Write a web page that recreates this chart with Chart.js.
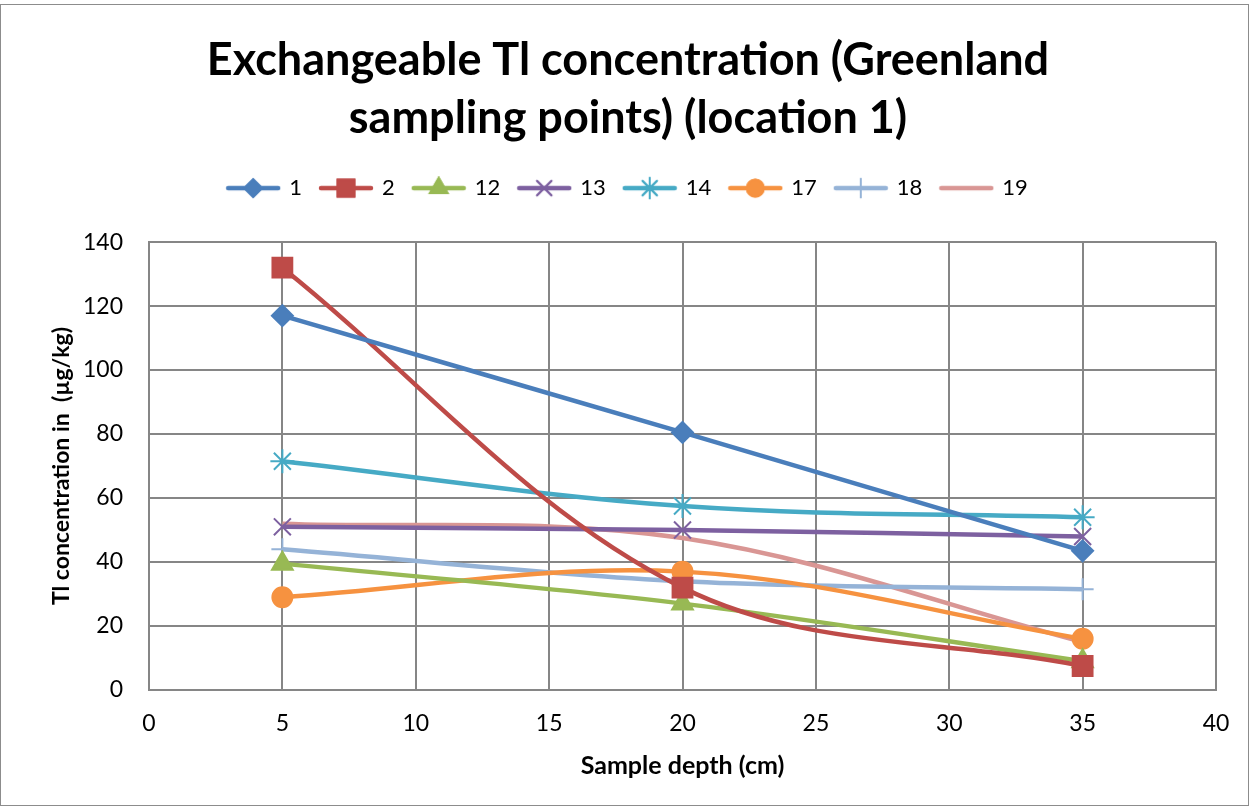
<!DOCTYPE html>
<html>
<head>
<meta charset="utf-8">
<script src="https://cdn.jsdelivr.net/npm/chart.js@4/dist/chart.umd.min.js"></script>
<style>
  html, body { margin: 0; padding: 0; background: #fff; }
  #wrap { width: 1252px; height: 808px; position: relative; }
  #frame { position: absolute; left: 0; top: 4px; width: 1249px; height: 802px; border: 1px solid #8c8c8c; box-sizing: border-box; pointer-events: none; }
</style>
</head>
<body>
<div id="wrap">
  <canvas id="chart" width="1252" height="808"></canvas>
  <div id="frame"></div>
</div>
<script>
var depths = [5, 20, 35];
var seriesNames = ['1', '2', '12', '13', '14', '17', '18', '19'];
var s1 = [117, 80.5, 43.5];
var s2 = [132, 32, 7.5];
var s12 = [39.5, 27, 9];
var s13 = [51, 50, 48];
var s14 = [71.5, 57.5, 54];
var s17 = [29, 37, 16];
var s18 = [44, 34, 31.5];
var s19 = [52, 47.5, 15];
var xTicks = [0, 5, 10, 15, 20, 25, 30, 35, 40];
var yTicks = [0, 20, 40, 60, 80, 100, 120, 140];

var colors = ['#4a7ebb', '#be4b48', '#98b954', '#7d60a0', '#46aac5', '#f69240', '#95b3d7', '#d99694'];
var styles = ['rectRot', 'rect', 'triangle', 'crossRot', 'star', 'circle', 'cross', false];
var radii = [10.5, 14, 12, 12, 12, 10, 11, 0];
var allValues = [s1, s2, s12, s13, s14, s17, s18, s19];

function pts(vals) {
    var out = [];
    for (var i = 0; i < depths.length; i++) {
        out.push({x: depths[i], y: vals[i]});
    }
    return out;
}

// small canvas for the legend: line with marker in the middle
function legendIcon(i) {
    var c = document.createElement('canvas');
    c.width = 56;
    c.height = 24;
    var g = c.getContext('2d');
    g.strokeStyle = colors[i];
    g.lineWidth = 4.5;
    g.lineCap = 'round';
    g.beginPath();
    g.moveTo(3, 12);
    g.lineTo(53, 12);
    g.stroke();
    if (styles[i]) {
        g.fillStyle = colors[i];
        g.lineWidth = 2;
        Chart.helpers.drawPoint(g, {pointStyle: styles[i], radius: radii[i] * 0.85, borderWidth: 2}, 28, 12);
        g.fill();
        g.stroke();
    }
    return c;
}

var datasets = [];
for (var i = 0; i < seriesNames.length; i++) {
    datasets.push({
        label: seriesNames[i],
        data: pts(allValues[i]),
        borderColor: colors[i],
        backgroundColor: colors[i],
        borderWidth: 4.5,
        tension: 0.35,
        pointStyle: styles[i],
        pointRadius: radii[i],
        pointBorderWidth: 2,
        pointHoverRadius: radii[i],
        showLine: true,
        fill: false
    });
}

// legend gets a fixed height so the plot starts where it should
var legendSpace = {
    id: 'legendSpace',
    afterInit: function (chart) {
        var lg = chart.legend;
        var fit = lg.fit;
        lg.fit = function () {
            fit.call(this);
            this.height = 84;
        };
    }
};

var ctx = document.getElementById('chart').getContext('2d');
var chart = new Chart(ctx, {
    type: 'scatter',
    data: { datasets: datasets },
    plugins: [legendSpace],
    options: {
        responsive: false,
        animation: false,
        layout: { padding: { left: 40, right: 36, top: 24, bottom: 20 } },
        plugins: {
            title: {
                display: true,
                text: ['Exchangeable Tl concentration (Greenland', 'sampling points) (location 1)'],
                color: '#000',
                font: { family: 'Lato', size: 45, weight: 'bold', lineHeight: 1.29 },
                padding: { top: 7, bottom: 11 }
            },
            legend: {
                display: true,
                labels: {
                    usePointStyle: true,
                    pointStyleWidth: 50,
                    color: '#000',
                    font: { family: 'Lato', size: 22 },
                    padding: 19,
                    generateLabels: function (chart) {
                        var items = Chart.defaults.plugins.legend.labels.generateLabels(chart);
                        items.forEach(function (it, k) { it.pointStyle = legendIcon(k); });
                        return items;
                    }
                }
            },
            tooltip: { enabled: false }
        },
        scales: {
            x: {
                type: 'linear',
                min: 0,
                max: 40,
                afterBuildTicks: function (s) { s.ticks = xTicks.map(function (v) { return {value: v}; }); },
                afterFit: function (s) { s.height = 98; },
                grid: { color: '#868686', lineWidth: 2, drawTicks: false },
                border: { color: '#868686', width: 2 },
                ticks: { color: '#000', font: { family: 'Lato', size: 23 }, padding: 20 },
                title: {
                    display: true,
                    text: 'Sample depth (cm)',
                    color: '#000',
                    font: { family: 'Lato', size: 25, weight: 'bold' },
                    padding: { top: 0, bottom: 7 }
                }
            },
            y: {
                type: 'linear',
                min: 0,
                max: 140,
                afterBuildTicks: function (s) { s.ticks = yTicks.map(function (v) { return {value: v}; }); },
                afterFit: function (s) { s.width = 109; },
                grid: { color: '#868686', lineWidth: 2, drawTicks: false },
                border: { color: '#868686', width: 2 },
                ticks: { color: '#000', font: { family: 'Lato', size: 23 }, padding: 26 },
                title: {
                    display: true,
                    text: 'Tl concentration in  (\u00b5g/kg)',
                    color: '#000',
                    font: { family: 'Lato', size: 23, weight: 'bold' },
                    padding: { top: 8, bottom: 0 }
                }
            }
        }
    }
});
</script>
</body>
</html>
